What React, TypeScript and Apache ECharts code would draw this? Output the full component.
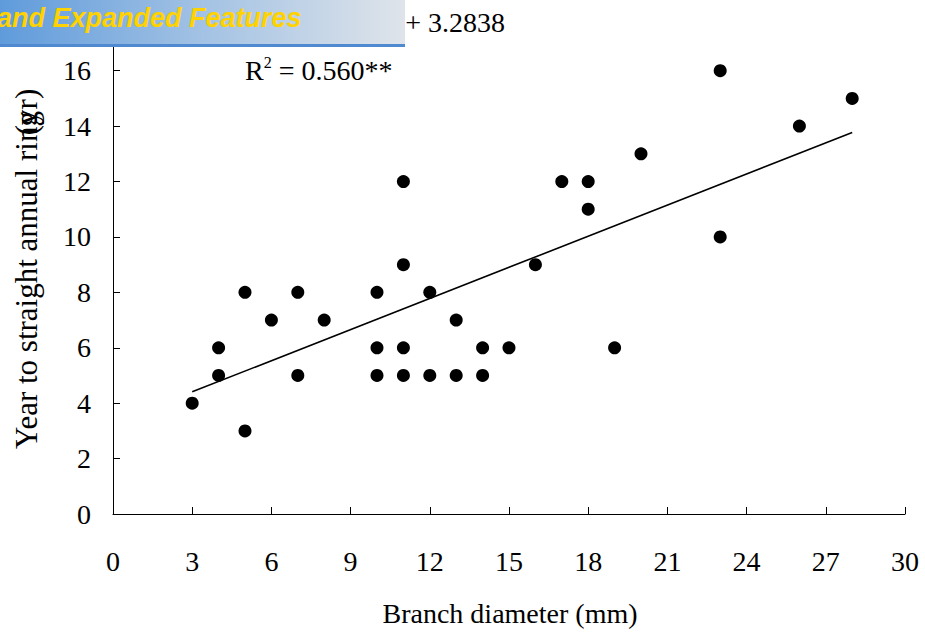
import React, { useEffect, useRef } from "react";
import * as echarts from "echarts";

const diameterMm = [3, 4, 4, 5, 5, 6, 7, 7, 8, 10, 10, 10, 11, 11, 11, 11, 12, 12, 13, 13, 14, 14, 15, 16, 17, 18, 18, 19, 20, 23, 23, 26, 28];
const yearsToRing = [4, 5, 6, 3, 8, 7, 8, 5, 7, 8, 6, 5, 12, 9, 6, 5, 8, 5, 7, 5, 6, 5, 6, 9, 12, 12, 11, 6, 13, 16, 10, 14, 15];
const trendX = [3, 28];
const trendY = [4.41, 13.77];
const xTicks = [0, 3, 6, 9, 12, 15, 18, 21, 24, 27, 30];
const yTicks = [0, 2, 4, 6, 8, 10, 12, 14, 16];

const SERIF = "'Liberation Serif', 'Times New Roman', serif";

export default function App() {
  const ref = useRef<HTMLDivElement>(null);
  useEffect(() => {
    if (!ref.current) return;
    const chart = echarts.init(ref.current, null, { renderer: "svg" });
    const points = diameterMm.map((x, i) => [x, yearsToRing[i]]);
    const trend = trendX.map((x, i) => [x, trendY[i]]);
    chart.setOption({
      animation: false,
      backgroundColor: "#ffffff",
      grid: { left: 113, right: 20, top: 43, bottom: 120 },
      xAxis: {
        type: "value",
        min: xTicks[0],
        max: xTicks[xTicks.length - 1],
        interval: 3,
        splitLine: { show: false },
        axisLine: { onZero: false, lineStyle: { color: "#000", width: 1 } },
        axisTick: { inside: true, length: 7, lineStyle: { color: "#000" } },
        axisLabel: { margin: 33, color: "#000", fontFamily: SERIF, fontSize: 28 },
      },
      yAxis: {
        type: "value",
        min: yTicks[0],
        max: 17,
        interval: 2,
        splitLine: { show: false },
        axisLine: { show: true, lineStyle: { color: "#000", width: 1 } },
        axisTick: { show: true, inside: true, length: 7, lineStyle: { color: "#000" } },
        axisLabel: {
          margin: 22,
          color: "#000",
          fontFamily: SERIF,
          fontSize: 28,
          formatter: (v: number) => (yTicks.indexOf(v) >= 0 ? String(v) : ""),
        },
      },
      series: [
        {
          type: "line",
          data: trend,
          symbol: "none",
          lineStyle: { color: "#000", width: 1.6 },
          z: 2,
        },
        {
          type: "scatter",
          data: points,
          symbol: "circle",
          symbolSize: 13,
          itemStyle: { color: "#000", opacity: 1 },
          z: 3,
        },
      ],
      graphic: [
        {
          type: "text",
          x: 505,
          y: 22,
          style: {
            text: "y = 0.3745x + 3.2838",
            font: `28px ${SERIF}`,
            fill: "#000",
            align: "right",
            verticalAlign: "middle",
          },
          z: 5,
        },
        {
          type: "text",
          x: 245,
          y: 84,
          style: {
            text: "{r|R}{s|2}{r| = 0.560**}",
            fill: "#000",
            verticalAlign: "bottom",
            rich: {
              r: { fontFamily: SERIF, fontSize: 28, verticalAlign: "bottom", fill: "#000", lineHeight: 30 },
              s: { fontFamily: SERIF, fontSize: 16, verticalAlign: "top", fill: "#000", lineHeight: 30 },
            },
          },
          z: 5,
        },
        {
          type: "text",
          x: 26,
          y: 280,
          rotation: Math.PI / 2,
          style: {
            text: "Year to straight annual ring",
            font: `31px ${SERIF}`,
            fill: "#000",
            align: "center",
            verticalAlign: "middle",
          },
          z: 5,
        },
        {
          type: "text",
          x: 26,
          y: 112,
          rotation: Math.PI / 2,
          style: {
            text: "(yr)",
            font: `31px ${SERIF}`,
            fill: "#000",
            align: "center",
            verticalAlign: "middle",
          },
          z: 5,
        },
        {
          type: "text",
          x: 510,
          y: 613,
          style: {
            text: "Branch diameter (mm)",
            font: `28px ${SERIF}`,
            fill: "#000",
            align: "center",
            verticalAlign: "middle",
          },
          z: 5,
        },
        {
          type: "rect",
          shape: { x: 0, y: 0, width: 405, height: 45 },
          style: {
            fill: new echarts.graphic.LinearGradient(0, 0, 1, 0, [
              { offset: 0, color: "#5f9bdb" },
              { offset: 0.5, color: "#a3c2e4" },
              { offset: 1, color: "#dfe4ea" },
            ]),
          },
          z: 20,
        },
        {
          type: "rect",
          shape: { x: 0, y: 44, width: 405, height: 3 },
          style: { fill: "#4f89cf" },
          z: 21,
        },
        {
          type: "text",
          x: -3,
          y: 18,
          style: {
            text: "and Expanded Features",
            font: "italic bold 27px 'Liberation Sans', Arial, sans-serif",
            fill: "#ffd200",
            verticalAlign: "middle",
          },
          z: 22,
        },
      ],
    });
    return () => chart.dispose();
  }, []);
  return <div ref={ref} style={{ width: 925, height: 634, position: "absolute", left: 0, top: 0 }} />;
}
